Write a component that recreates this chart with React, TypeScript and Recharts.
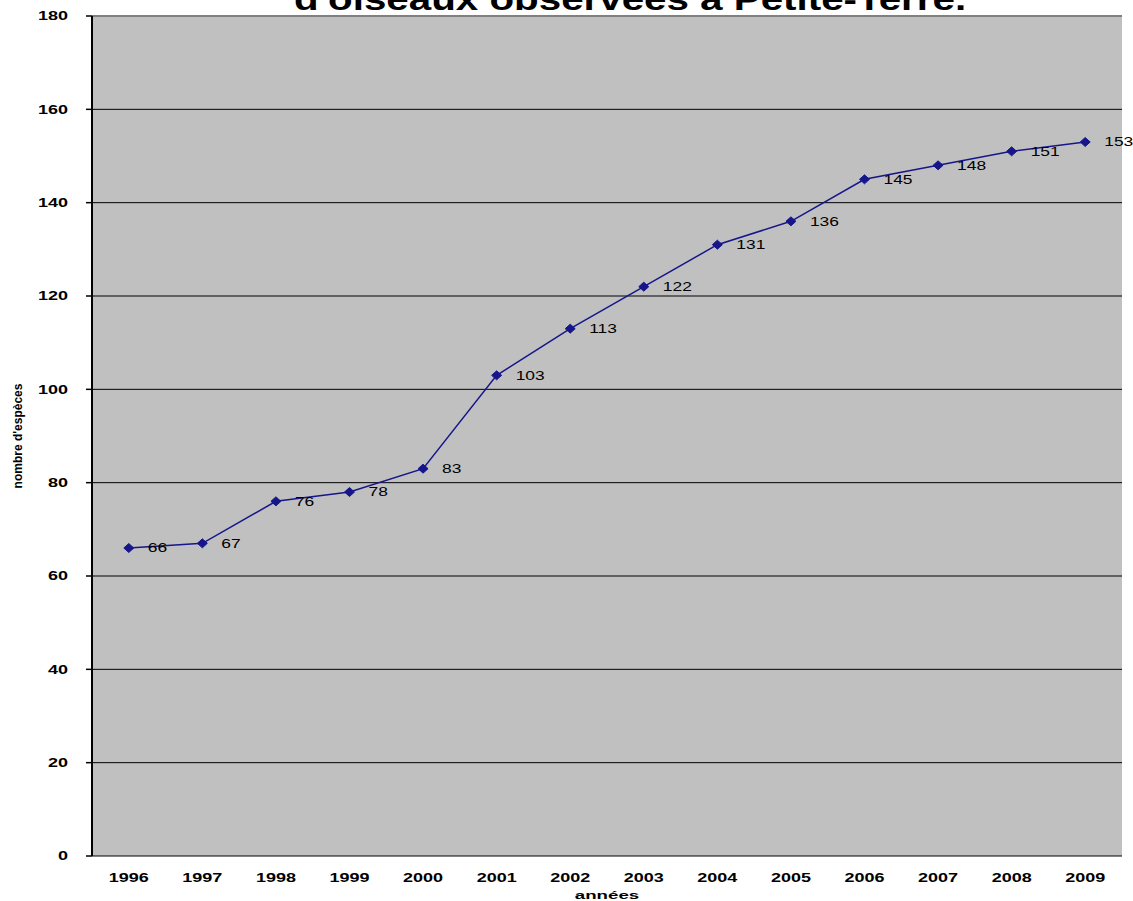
import React from 'react';
import {
  LineChart,
  Line,
  XAxis,
  YAxis,
  CartesianGrid,
  ReferenceLine,
  LabelList,
  Label,
} from 'recharts';

const years = ['1996', '1997', '1998', '1999', '2000', '2001', '2002', '2003', '2004', '2005', '2006', '2007', '2008', '2009'];
const species = [66, 67, 76, 78, 83, 103, 113, 122, 131, 136, 145, 148, 151, 153];
const yTicks = [0, 20, 40, 60, 80, 100, 120, 140, 160, 180];
const boundaryTicks = [0, 1, 2, 3, 4, 5, 6, 7, 8, 9, 10, 11, 12, 13, 14];

const data = years.map((y, i) => ({ year: y, n: species[i] }));

const FONT = '"Liberation Sans", Arial, sans-serif';
const NAVY = '#16168a';

// the source picture is stretched sideways, so every text is widened a bit
const Wide = ({ x, y, sx, anchor, dy, size, bold, children }: any) => (
  <g transform={`translate(${x},${y}) scale(${sx},1)`}>
    <text
      x={0}
      y={0}
      dy={dy}
      textAnchor={anchor}
      fill="#000"
      fontSize={size}
      fontWeight={bold ? 'bold' : 'normal'}
      fontFamily={FONT}
    >
      {children}
    </text>
  </g>
);

const XTick = (props: any) => (
  <Wide x={props.x} y={props.y} sx={1.5} anchor="middle" dy="0.71em" size={12} bold>
    {props.payload.value}
  </Wide>
);

const YTick = (props: any) => (
  <Wide x={props.x} y={props.y} sx={1.5} anchor="end" dy="0.355em" size={12} bold>
    {props.payload.value}
  </Wide>
);

const PointLabel = (props: any) => {
  const x = props.x ?? props.viewBox?.x;
  const y = props.y ?? props.viewBox?.y;
  if (x == null || y == null) return null;
  return (
    <Wide x={x + 19} y={y} sx={1.45} anchor="start" dy="0.355em" size={12}>
      {props.value}
    </Wide>
  );
};

const Diamond = (props: any) => {
  const { cx, cy } = props;
  if (cx == null || cy == null) return null;
  return (
    <polygon
      points={`${cx - 5},${cy} ${cx},${cy - 4.5} ${cx + 5},${cy} ${cx},${cy + 4.5}`}
      fill={NAVY}
      stroke={NAVY}
    />
  );
};

const XTitle = (props: any) => {
  const vb = props.viewBox;
  return (
    <Wide x={vb.x + vb.width / 2} y={vb.y + vb.height - 2} sx={1.7} anchor="middle" dy={0} size={11} bold>
      années
    </Wide>
  );
};

export default function App() {
  return (
    <div style={{ position: 'absolute', left: 0, top: 0, width: 1133, height: 901, overflow: 'hidden', background: '#fff' }}>
      <div
        style={{
          position: 'absolute',
          left: 0,
          width: 1260,
          top: -17,
          textAlign: 'center',
          fontFamily: FONT,
          fontWeight: 'bold',
          fontSize: 32,
          lineHeight: '32px',
          color: '#000',
          transform: 'scaleX(1.26)',
          transformOrigin: '630px 0',
          whiteSpace: 'nowrap',
        }}
      >
        d'oiseaux observées à Petite-Terre.
      </div>
      <LineChart width={1133} height={901} data={data} margin={{ top: 16, right: 11, left: 0, bottom: 0 }}>
        <CartesianGrid fill="#c0c0c0" stroke="#000" vertical={false} horizontalValues={yTicks} />
        <XAxis
          xAxisId="grid"
          type="number"
          domain={[0, 14]}
          ticks={boundaryTicks}
          allowDataOverflow
          height={0}
          tick={() => <g />}
          tickSize={7}
          tickLine={{ stroke: '#000', strokeWidth: 2 }}
          axisLine={{ stroke: '#000', strokeWidth: 2 }}
        />
        <XAxis
          dataKey="year"
          scale="band"
          height={45}
          tickLine={false}
          axisLine={false}
          tickMargin={11}
          interval={0}
          tick={<XTick />}
        >
          <Label content={<XTitle />} position="insideBottom" />
        </XAxis>
        <YAxis
          domain={[0, 180]}
          ticks={yTicks}
          width={92}
          interval={0}
          tickSize={6}
          tickMargin={18}
          tickLine={{ stroke: '#000', strokeWidth: 1.5 }}
          axisLine={{ stroke: '#000', strokeWidth: 2 }}
          tick={<YTick />}
        >
          <Label
            value="nombre d'espèces"
            angle={-90}
            position="insideLeft"
            offset={18}
            style={{ textAnchor: 'middle', fill: '#000', fontSize: 12, fontWeight: 'bold', fontFamily: FONT }}
          />
        </YAxis>
        <ReferenceLine y={180} stroke="#808080" strokeWidth={2} />
        <ReferenceLine xAxisId="grid" x={14} stroke="#808080" strokeWidth={3} />
        <Line
          dataKey="n"
          stroke={NAVY}
          strokeWidth={1.5}
          dot={<Diamond />}
          activeDot={false}
          isAnimationActive={false}
        >
          <LabelList dataKey="n" content={<PointLabel />} />
        </Line>
      </LineChart>
    </div>
  );
}
